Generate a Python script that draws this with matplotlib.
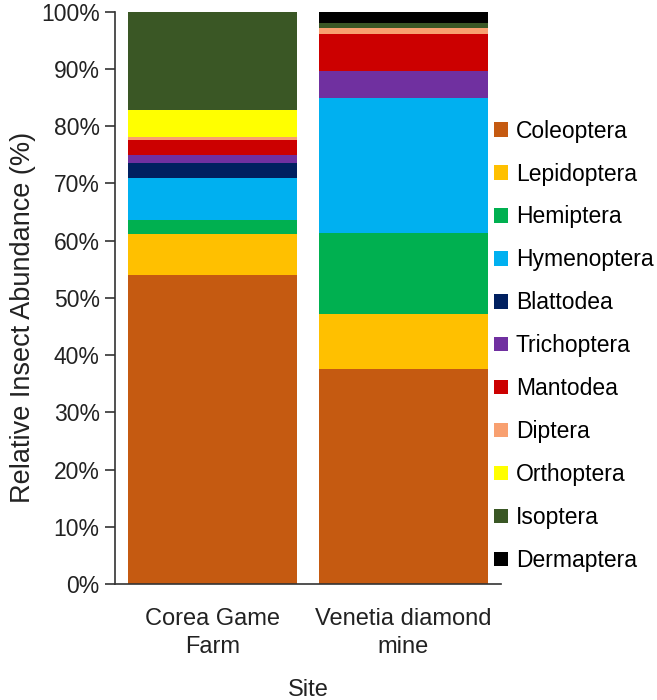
import numpy as np
import matplotlib.pyplot as plt
from matplotlib.patches import Patch

plt.rcParams['font.family'] = ['Liberation Sans', 'DejaVu Sans']

sites = ["Corea Game\nFarm", "Venetia diamond\nmine"]
orders = ["Coleoptera", "Lepidoptera", "Hemiptera", "Hymenoptera", "Blattodea",
          "Trichoptera", "Mantodea", "Diptera", "Orthoptera", "Isoptera", "Dermaptera"]
colors = ["#C55A11", "#FFC000", "#00B050", "#00B0F0", "#002060",
          "#7030A0", "#CC0000", "#F8A070", "#FFFF00", "#3A5725", "#000000"]

# percent abundance per order, [Corea, Venetia]
coleoptera = [54.0, 37.5]
lepidoptera = [7.1, 9.6]
hemiptera = [2.5, 14.2]
hymenoptera = [7.4, 23.7]
blattodea = [2.6, 0.0]
trichoptera = [1.4, 4.7]
mantodea = [2.6, 6.4]
diptera = [0.5, 1.0]
orthoptera = [4.7, 0.0]
isoptera = [17.2, 1.0]
dermaptera = [0.0, 1.9]

values = [coleoptera, lepidoptera, hemiptera, hymenoptera, blattodea, trichoptera,
          mantodea, diptera, orthoptera, isoptera, dermaptera]

fig = plt.figure(figsize=(6.57, 7), dpi=100)
ax = fig.add_axes([0.175, 0.1657, 0.5876, 0.8176])

x = np.arange(len(sites))
bottom = np.zeros(len(sites))
for name, vals, c in zip(orders, values, colors):
    vals = np.array(vals)
    ax.bar(x, vals, width=0.885, bottom=bottom, color=c, label=name, linewidth=0)
    bottom += vals

ax.set_xlim(-0.51, 1.51)
ax.set_ylim(0, 100)
ax.set_yticks(np.arange(0, 101, 10))
ax.set_yticklabels([f"{v}%" for v in range(0, 101, 10)], fontsize=16.5, color="#222222")
ax.set_xticks(x)
ax.set_xticklabels(sites, fontsize=17, color="#222222", linespacing=1.4)
ax.tick_params(axis='x', length=0, pad=17)
ax.tick_params(axis='y', length=7, width=1.2, color="#333333", pad=4)
for s in ['top', 'right']:
    ax.spines[s].set_visible(False)
for s in ['left', 'bottom']:
    ax.spines[s].set_color("#333333")
    ax.spines[s].set_linewidth(1.2)

ax.set_ylabel("Relative Insect Abundance (%)", fontsize=19.5, color="#222222")
ax.yaxis.set_label_coords(-0.205, 0.465)
fig.text(0.469, 1 - 690 / 700, "Site", fontsize=17, color="#222222", ha='center', va='center')

handles = [Patch(facecolor=c, edgecolor='none') for c in colors]
fig.legend(handles, orders, loc='center left', bbox_to_anchor=(0.752, 0.506),
           frameon=False, fontsize=16.5, handlelength=0.6, handleheight=0.6,
           handletextpad=0.35, labelspacing=0.87, borderpad=0, borderaxespad=0)

fig.savefig("out.png", dpi=100)
